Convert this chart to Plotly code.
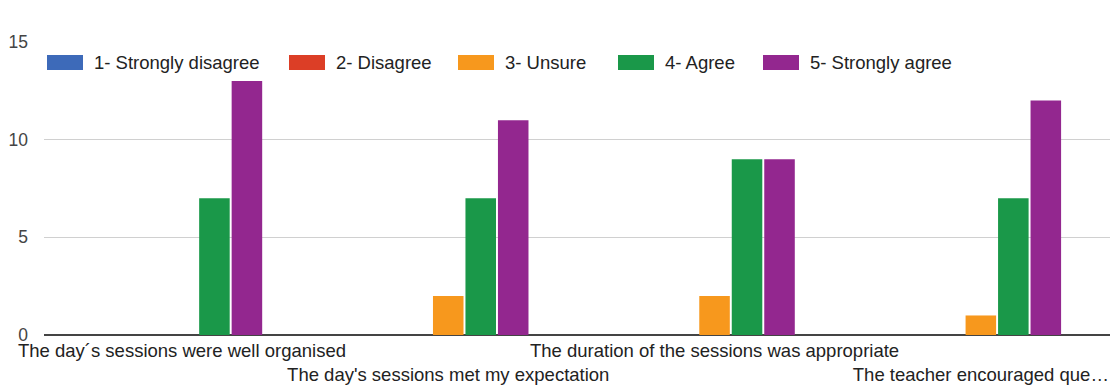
import plotly.graph_objects as go

categories = [
    "The day´s sessions were well organised",
    "The day's sessions met my expectation",
    "The duration of the sessions was appropriate",
    "The teacher encouraged que…",
]
series_names = ["1- Strongly disagree", "2- Disagree", "3- Unsure", "4- Agree", "5- Strongly agree"]
strongly_disagree = [0, 0, 0, 0]
disagree = [0, 0, 0, 0]
unsure = [0, 2, 2, 1]
agree = [7, 7, 9, 7]
strongly_agree = [13, 11, 9, 12]
y_ticks = [0, 5, 10, 15]

series_values = [strongly_disagree, disagree, unsure, agree, strongly_agree]
colors = ["#3d6ab9", "#dc3e26", "#f7981d", "#1a9849", "#93278f"]

W, H = 1110, 385
ML, MR, MT, MB = 44, 0, 42, 50
FONT = "Liberation Sans, Arial, sans-serif"

fig = go.Figure()
xs = list(range(len(categories)))
for name, vals, col in zip(series_names, series_values, colors):
    fig.add_trace(go.Bar(
        x=xs, y=vals, name=name,
        marker=dict(color=col, line=dict(width=0)),
        showlegend=False,
    ))

# two-row staggered category labels
ticktext = [c if i % 2 == 0 else "<br>" + c for i, c in enumerate(categories)]

# manual legend (larger swatches as in reference)
legend_x = [47, 289, 458, 618, 763]
pw = W - ML - MR
ph = H - MT - MB
def px_x(p):
    return (p - ML) / pw
def px_y(p):
    return (H - MB - p) / ph

shapes = []
annotations = []
for name, col, lx in zip(series_names, colors, legend_x):
    shapes.append(dict(type="rect", xref="paper", yref="paper",
                       x0=px_x(lx), x1=px_x(lx + 36), y0=px_y(70), y1=px_y(55),
                       fillcolor=col, line=dict(width=0), layer="above"))
    annotations.append(dict(xref="paper", yref="paper", x=px_x(lx + 45), y=px_y(62.5),
                            xanchor="left", yanchor="middle", showarrow=False,
                            text=name, font=dict(family=FONT, size=18.5, color="#222222")))

fig.update_layout(
    width=W, height=H,
    margin=dict(l=ML, r=MR, t=MT, b=MB, autoexpand=False),
    paper_bgcolor="white", plot_bgcolor="white",
    barmode="group", bargap=0.39, bargroupgap=0.06,
    shapes=shapes, annotations=annotations,
    font=dict(family=FONT, size=18.5, color="#222222"),
    xaxis=dict(
        range=[-0.518, 3.485], tickmode="array", tickvals=xs, ticktext=ticktext,
        showgrid=False, zeroline=False, showline=False, ticks="",
        tickangle=0, automargin=False, ticklabelstandoff=2,
        tickfont=dict(family=FONT, size=18.5, color="#222222"),
    ),
    yaxis=dict(
        range=[0, 15], tickmode="array", tickvals=y_ticks,
        showgrid=True, gridcolor="#d0d0d0", gridwidth=1,
        zeroline=True, zerolinecolor="#444444", zerolinewidth=2,
        showline=False, ticks="", ticklabelstandoff=15, automargin=False,
        tickfont=dict(family=FONT, size=17.5, color="#444444"),
    ),
)

fig.write_html("out.html")
